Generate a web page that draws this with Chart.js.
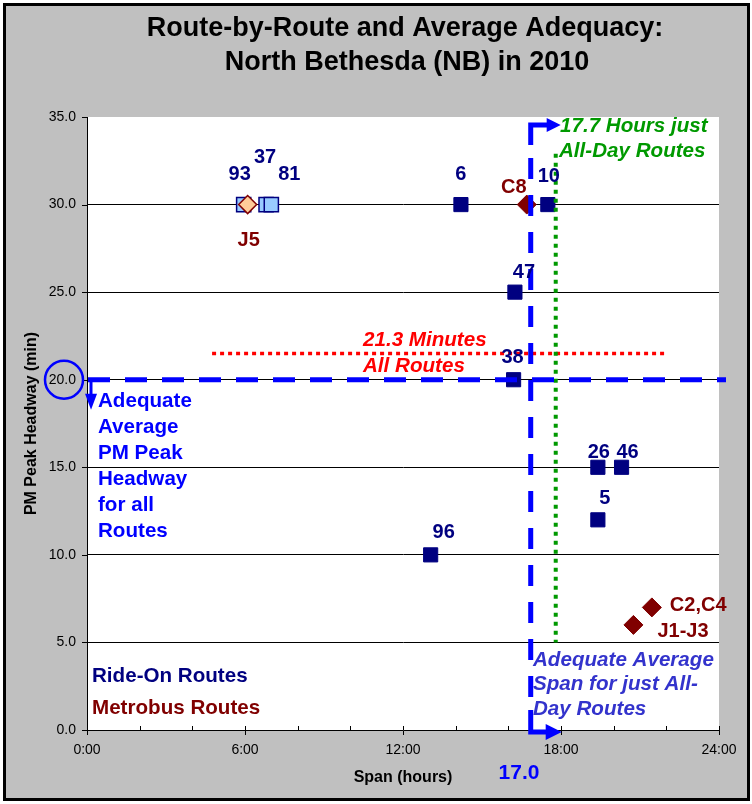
<!DOCTYPE html>
<html><head><meta charset="utf-8">
<script src="https://cdn.jsdelivr.net/npm/chart.js@4"></script>
<style>html,body{margin:0;padding:0;background:#fff}canvas{display:block}</style>
</head><body>
<canvas id="c" width="752" height="804"></canvas>
<script>
// ---------- data ----------
const titleLines = ['Route-by-Route and Average Adequacy:', 'North Bethesda (NB) in 2010'];
const xTickHours = [0, 6, 12, 18, 24];
const yTickValues = [0, 5, 10, 15, 20, 25, 30, 35];

const rideOnRoutes = ['6', '10', '47', '38', '26', '46', '5', '96'];
const rideOnSpan = [14.2, 17.5, 16.25, 16.2, 19.4, 20.3, 19.4, 13.05];
const rideOnHeadway = [30, 30, 25, 20, 15, 15, 12, 10];

const rideOnPartRoutes = ['93', '37', '81'];
const rideOnPartSpan = [5.95, 6.8, 7.0];
const rideOnPartHeadway = [30, 30, 30];

const metroRoutes = ['C8', 'C2,C4', 'J1-J3'];
const metroSpan = [16.7, 21.45, 20.75];
const metroHeadway = [30, 7, 6];

const metroPartRoutes = ['J5'];
const metroPartSpan = [6.1];
const metroPartHeadway = [30];

const adequateHeadway = 20;     // blue dashed horizontal
const avgHeadwayAll = 21.5;     // red dotted line ("21.3 Minutes")
const avgHeadwayRange = [4.75, 22];
const adequateSpan = 16.85;     // blue dashed vertical ("17.0")
const avgSpanAllDay = 17.8;     // green dotted ("17.7 Hours")
const avgSpanRange = [5, 32.9];

// ---------- styling ----------
const FONT = '"Liberation Sans", Arial, Helvetica, sans-serif';
const NAVY = '#000080', DRED = '#800000', BLUE = '#0000FF', GREEN = '#009900', RED = '#FF0000';

const labelPlacement = {
  '93': [-4, -30, 'center'], '37': [-1, -47, 'center'], '81': [18, -30, 'center'], 'J5': [1, 36, 'center'],
  '6': [0, -30, 'center'], 'C8': [-13, -17, 'center'], '10': [1, -28, 'center'], '47': [9, -20, 'center'],
  '38': [-1, -22, 'center'], '26': [1, -15, 'center'], '46': [6, -15, 'center'], '5': [7, -21, 'center'],
  '96': [13, -22, 'center'], 'C2,C4': [18, -2, 'left'], 'J1-J3': [24, 7, 'left']
};

const toPts = (xs, ys) => xs.map((x, i) => ({x, y: ys[i]}));

const datasets = [
  {label: 'J5', routes: metroPartRoutes, color: DRED, data: toPts(metroPartSpan, metroPartHeadway),
   pointStyle: 'rectRot', pointRadius: 9, backgroundColor: '#FFCC99', borderColor: DRED, borderWidth: 1.5, order: 0},
  {label: 'Metrobus', routes: metroRoutes, color: DRED, data: toPts(metroSpan, metroHeadway),
   pointStyle: 'rectRot', pointRadius: 9.5, backgroundColor: DRED, borderColor: DRED, borderWidth: 1, order: 1},
  {label: 'Ride-On partial', routes: rideOnPartRoutes, color: NAVY, data: toPts(rideOnPartSpan, rideOnPartHeadway),
   pointStyle: 'rect', pointRadius: 10, backgroundColor: '#99CCFF', borderColor: NAVY, borderWidth: 1.5, order: 2},
  {label: 'Ride-On', routes: rideOnRoutes, color: NAVY, data: toPts(rideOnSpan, rideOnHeadway),
   pointStyle: 'rect', pointRadius: 10, backgroundColor: NAVY, borderColor: NAVY, borderWidth: 1, order: 3}
];

function text(ctx, str, x, y, font, color, align) {
  ctx.font = font; ctx.fillStyle = color; ctx.textAlign = align || 'left'; ctx.textBaseline = 'middle';
  ctx.fillText(str, x, y);
}

const decor = {
  id: 'decor',
  beforeDraw(chart) {
    const {ctx, chartArea: a} = chart;
    ctx.save();
    ctx.fillStyle = '#fff'; ctx.fillRect(0, 0, chart.width, chart.height);
    ctx.fillStyle = '#C0C0C0'; ctx.fillRect(4, 4, 745, 796);
    ctx.strokeStyle = '#000'; ctx.lineWidth = 3; ctx.strokeRect(4.5, 4.5, 744, 795);
    ctx.fillStyle = '#fff'; ctx.fillRect(a.left, a.top, a.right - a.left, a.bottom - a.top);
    text(ctx, titleLines[0], 405, 29, 'bold 27px ' + FONT, '#000', 'center');
    text(ctx, titleLines[1], 407, 63, 'bold 27px ' + FONT, '#000', 'center');
    ctx.restore();
  },
  beforeDatasetsDraw(chart) {
    const {ctx, scales: {x, y}, chartArea: a} = chart;
    ctx.save();
    ctx.strokeStyle = '#000'; ctx.lineWidth = 1;
    ctx.beginPath();
    yTickValues.forEach(v => { const py = Math.round(y.getPixelForValue(v)) + 0.5; ctx.moveTo(a.left - 5, py); ctx.lineTo(a.left, py); });
    for (let h = 0; h <= 24; h += 2) { const px = Math.round(x.getPixelForValue(h)) + 0.5; ctx.moveTo(px, a.bottom); ctx.lineTo(px, a.bottom - 4); }
    ctx.stroke();
    ctx.restore();
  },
  afterDatasetsDraw(chart) {
    const {ctx, scales: {x, y}, chartArea: a} = chart;
    ctx.save();
    // red dotted average headway
    const ry = y.getPixelForValue(avgHeadwayAll);
    ctx.strokeStyle = RED; ctx.lineWidth = 3.5; ctx.setLineDash([4, 4]);
    ctx.beginPath(); ctx.moveTo(x.getPixelForValue(avgHeadwayRange[0]), ry); ctx.lineTo(x.getPixelForValue(avgHeadwayRange[1]), ry); ctx.stroke();
    // green dotted average span
    const gx = x.getPixelForValue(avgSpanAllDay);
    ctx.strokeStyle = GREEN; ctx.lineWidth = 4; ctx.setLineDash([4, 5]);
    ctx.beginPath(); ctx.moveTo(gx, y.getPixelForValue(avgSpanRange[1])); ctx.lineTo(gx, y.getPixelForValue(avgSpanRange[0])); ctx.stroke();
    // blue dashed adequate headway
    const by = y.getPixelForValue(adequateHeadway);
    ctx.strokeStyle = BLUE; ctx.fillStyle = BLUE; ctx.lineWidth = 5;
    ctx.setLineDash([22, 15]);
    ctx.beginPath(); ctx.moveTo(a.left + 1, by); ctx.lineTo(a.right + 7, by); ctx.stroke();
    ctx.setLineDash([]);
    ctx.lineWidth = 3;
    ctx.beginPath(); ctx.moveTo(a.left + 4, by); ctx.lineTo(a.left + 4, by + 15); ctx.stroke();
    ctx.beginPath(); ctx.moveTo(a.left - 2, by + 14); ctx.lineTo(a.left + 10, by + 14); ctx.lineTo(a.left + 4, by + 30); ctx.closePath(); ctx.fill();
    // blue circle around 20.0
    ctx.lineWidth = 2.5;
    ctx.beginPath(); ctx.arc(a.left - 23, by, 19, 0, Math.PI * 2); ctx.stroke();
    // blue dashed adequate span
    const bx = x.getPixelForValue(adequateSpan);
    const top = a.top + 8, bot = a.bottom + 2;
    ctx.lineWidth = 5; ctx.setLineDash([21, 16]); ctx.lineDashOffset = 0;
    ctx.beginPath(); ctx.moveTo(bx, top + 33); ctx.lineTo(bx, bot - 22); ctx.stroke();
    ctx.setLineDash([]);
    ctx.beginPath(); ctx.moveTo(bx, top + 20); ctx.lineTo(bx, top); ctx.lineTo(bx + 18, top); ctx.stroke();
    ctx.beginPath(); ctx.moveTo(bx + 16, top - 7); ctx.lineTo(bx + 30, top); ctx.lineTo(bx + 16, top + 7); ctx.closePath(); ctx.fill();
    ctx.beginPath(); ctx.moveTo(bx, bot - 22); ctx.lineTo(bx, bot); ctx.lineTo(bx + 17, bot); ctx.stroke();
    ctx.beginPath(); ctx.moveTo(bx + 15, bot - 8); ctx.lineTo(bx + 31, bot); ctx.lineTo(bx + 15, bot + 8); ctx.closePath(); ctx.fill();
    ctx.restore();

    // point labels
    ctx.save();
    chart.data.datasets.forEach((ds, di) => {
      const meta = chart.getDatasetMeta(di);
      meta.data.forEach((pt, i) => {
        const r = ds.routes[i]; const p = labelPlacement[r];
        text(ctx, r, pt.x + p[0], pt.y + p[1], 'bold 20px ' + FONT, ds.color, p[2]);
      });
    });
    // annotation texts
    const B = 'bold 20.6px ' + FONT, BI = 'italic bold 20.6px ' + FONT;
    text(ctx, '17.7 Hours just', 560, 126, BI, GREEN);
    text(ctx, 'All-Day Routes', 559, 151, BI, GREEN);
    text(ctx, '21.3 Minutes', 363, 340, BI, RED);
    text(ctx, 'All Routes', 363, 366, BI, RED);
    ['Adequate', 'Average', 'PM Peak', 'Headway', 'for all', 'Routes'].forEach((s, i) => text(ctx, s, 98, 401 + i * 26.1, B, BLUE));
    ['Adequate Average', 'Span for just All-', 'Day Routes'].forEach((s, i) => text(ctx, s, 533, 660 + i * 24.5, BI, '#3333CC'));
    text(ctx, 'Ride-On Routes', 92, 676, B, NAVY);
    text(ctx, 'Metrobus Routes', 92, 708, B, DRED);
    text(ctx, '17.0', 519, 773, 'bold 21px ' + FONT, BLUE, 'center');
    ctx.restore();
  }
};

new Chart(document.getElementById('c'), {
  type: 'scatter',
  data: {datasets},
  options: {
    responsive: false, animation: false, devicePixelRatio: 1,
    layout: {padding: {left: 5, top: 117, right: 33, bottom: 4}},
    plugins: {legend: {display: false}, tooltip: {enabled: false}},
    scales: {
      x: {
        type: 'linear', min: 0, max: 24,
        afterFit: s => { s.height = 70; },
        afterBuildTicks: s => { s.ticks = []; for (let h = 0; h <= 24; h += 2) s.ticks.push({value: h}); },
        ticks: {autoSkip: false, maxRotation: 0, padding: 7, color: '#000', font: {family: FONT, size: 14},
          callback: v => xTickHours.includes(v) ? v + ':00' : ''},
        grid: {drawOnChartArea: false, drawTicks: true, tickLength: 5,
          color: c => (c.tick && xTickHours.includes(c.tick.value)) ? '#000' : 'rgba(0,0,0,0)'},
        border: {color: '#000', width: 1},
        title: {display: true, text: 'Span (hours)', color: '#000', font: {family: FONT, size: 16, weight: 'bold'}, padding: {top: 0, bottom: 13}}
      },
      y: {
        type: 'linear', min: 0, max: 35,
        afterFit: s => { s.width = 82; },
        afterBuildTicks: s => { s.ticks = yTickValues.map(v => ({value: v})); },
        ticks: {padding: 11, color: '#000', font: {family: FONT, size: 14}, callback: v => v.toFixed(1)},
        grid: {drawTicks: false, color: c => (c.tick && (c.tick.value === 35 || c.tick.value === 0)) ? 'rgba(0,0,0,0)' : '#000', lineWidth: 1},
        border: {color: '#000', width: 1},
        title: {display: true, text: 'PM Peak Headway (min)', color: '#000', font: {family: FONT, size: 16, weight: 'bold'}, padding: {top: 17, bottom: 0}}
      }
    }
  },
  plugins: [decor]
});
</script>
</body></html>
